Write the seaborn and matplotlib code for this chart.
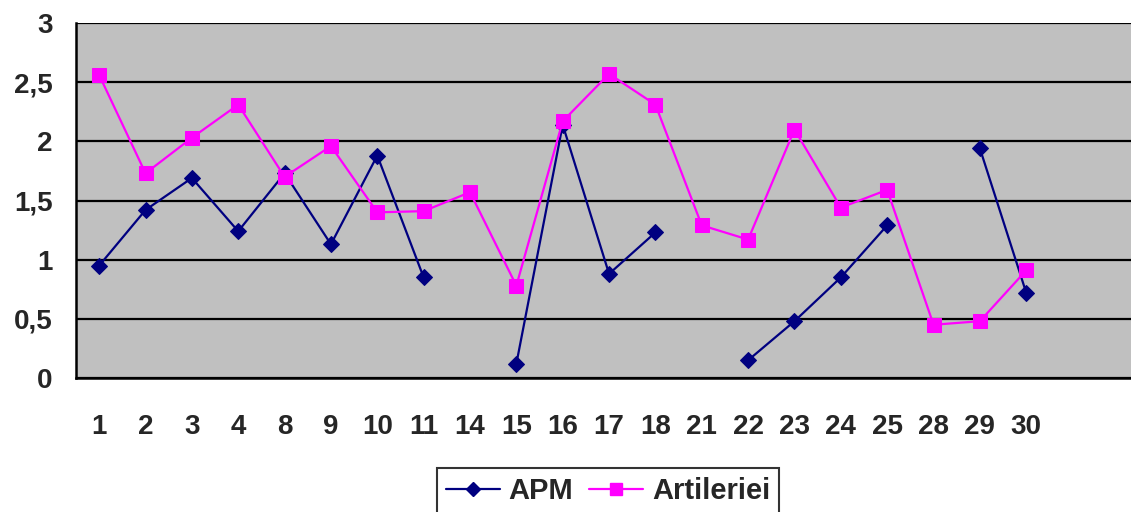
import matplotlib
matplotlib.use("Agg")
import matplotlib.pyplot as plt
import seaborn as sns
import pandas as pd
import numpy as np
from matplotlib.lines import Line2D
from matplotlib.ticker import FixedLocator, FuncFormatter

days = ['1', '2', '3', '4', '8', '9', '10', '11', '14', '15', '16',
        '17', '18', '21', '22', '23', '24', '25', '28', '29', '30']
apm = [0.95, 1.42, 1.69, 1.24, 1.73, 1.13, 1.88, 0.85, np.nan, 0.12, 2.14,
       0.88, 1.23, np.nan, 0.15, 0.48, 0.85, 1.29, np.nan, 1.94, 0.72]
artileriei = [2.56, 1.73, 2.03, 2.31, 1.70, 1.96, 1.40, 1.41, 1.57, 0.78, 2.17,
              2.57, 2.31, 1.29, 1.17, 2.10, 1.44, 1.59, 0.45, 0.48, 0.91]
n_slots = 23  # the category axis has two empty slots after "30"


def segments(values):
    # a new segment starts after each missing value, so the line is broken there
    df = pd.DataFrame({'pos': np.arange(len(values)), 'val': values})
    df['seg'] = df['val'].isna().cumsum()
    return df.dropna()


sns.set_style('white')
plt.rcParams['font.family'] = ['Liberation Sans', 'DejaVu Sans']
plt.rcParams['font.weight'] = 'bold'

fig = plt.figure(figsize=(11.31, 5.12), dpi=100)
ax = fig.add_axes([76 / 1131, 134 / 512, 1055 / 1131, 355 / 512])
ax.set_facecolor('#C0C0C0')

sns.lineplot(data=segments(apm), x='pos', y='val', units='seg', estimator=None,
             color='#000080', lw=1.6, marker='D', markersize=8.5,
             markeredgecolor='#000080', ax=ax, zorder=3)
sns.lineplot(data=segments(artileriei), x='pos', y='val', units='seg', estimator=None,
             color='#FF00FF', lw=1.6, marker='s', markersize=9.5,
             markeredgecolor='#FF00FF', ax=ax, zorder=3)

ax.set_ylim(0, 3)
ax.set_xlim(-0.5, 22.26)
ax.set_yticks(np.arange(0, 3.01, 0.5))
ax.yaxis.set_major_formatter(FuncFormatter(lambda v, p: ('%g' % v).replace('.', ',')))
ax.yaxis.grid(True, color='black', lw=1.6)
ax.set_axisbelow(True)

ax.set_xticks(np.arange(len(days)))
ax.set_xticklabels(days)
ax.xaxis.set_minor_locator(FixedLocator(np.arange(n_slots) - 0.5))
ax.tick_params(axis='x', which='major', length=0, pad=26, labelsize=20)
ax.tick_params(axis='x', which='minor', length=8, width=1.5, color='black', direction='out')
ax.tick_params(axis='y', length=10, width=1.5, color='black', direction='out', pad=7, labelsize=20)
for lab in ax.get_xticklabels() + ax.get_yticklabels():
    lab.set_fontweight('bold')
ax.set_xlabel('')
ax.set_ylabel('')

for side in ['top', 'right']:
    ax.spines[side].set_visible(False)
for side in ['left', 'bottom']:
    ax.spines[side].set_color('black')
    ax.spines[side].set_linewidth(1.8)

handles = [Line2D([], [], color='#000080', lw=1.6, marker='D', markersize=7),
           Line2D([], [], color='#FF00FF', lw=1.6, marker='s', markersize=8)]
leg = fig.legend(handles, ['APM', 'Artileriei'], loc='upper center',
                 bbox_to_anchor=(608 / 1131, 44 / 512), borderaxespad=0,
                 ncol=2, frameon=True, fancybox=False, edgecolor='black',
                 prop={'size': 21, 'weight': 'bold'}, handlelength=1.85,
                 columnspacing=0.55, handletextpad=0.3, borderpad=0.3)
leg.get_frame().set_linewidth(1.5)

fig.savefig('out.png', dpi=100)
